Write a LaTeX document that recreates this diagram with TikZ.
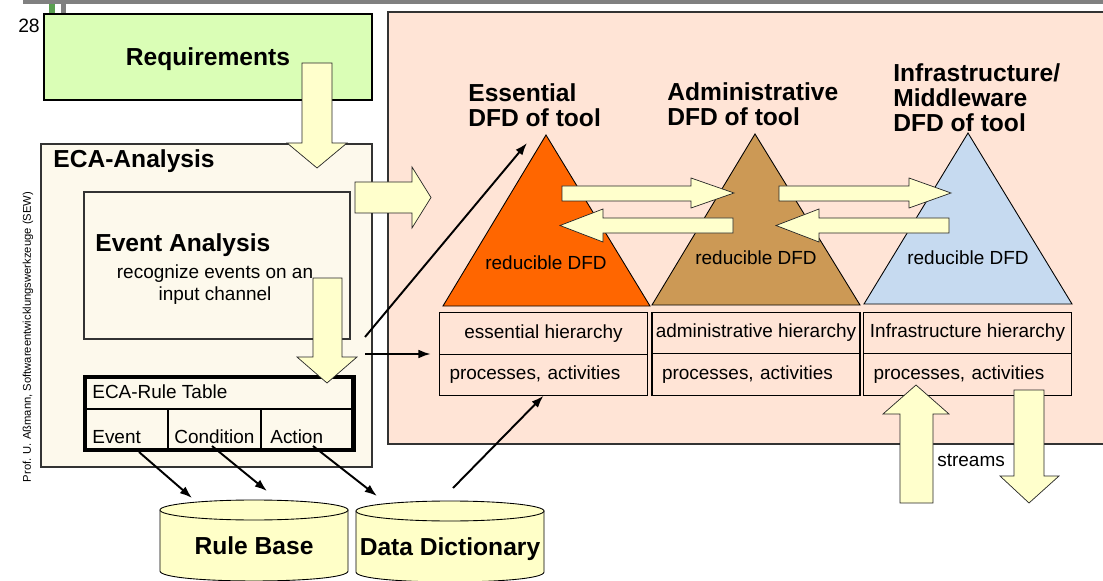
\documentclass[tikz,border=0pt]{standalone}
\usepackage{fontspec}
\setmainfont{Liberation Sans}
\usetikzlibrary{arrows.meta,positioning}

\definecolor{reqgreen}{RGB}{218,254,182}
\definecolor{ecacream}{RGB}{253,249,236}
\definecolor{toolpink}{RGB}{255,228,214}
\definecolor{fatyellow}{RGB}{255,255,204}
\definecolor{dbyellow}{RGB}{255,255,200}
\definecolor{essorange}{RGB}{255,102,0}
\definecolor{admbrown}{RGB}{204,153,85}
\definecolor{infblue}{RGB}{198,218,240}
\definecolor{stripegreen}{RGB}{90,160,80}

\tikzset{
  headtext/.style={font=\fontsize{14}{14.2}\selectfont\bfseries, inner sep=0pt},
  normtext/.style={font=\fontsize{10.8}{12.5}\selectfont, inner sep=0pt},
  tablecell/.style={draw, line width=0.6pt, normtext, minimum width=4.16cm, minimum height=0.83cm, outer sep=0pt},
  fatarrow/.style={draw=black!85, fill=fatyellow, line width=0.4pt},
  flow/.style={-{Latex[length=7pt,width=5pt]}, line width=1.1pt},
}

\begin{document}
\begin{tikzpicture}[x=0.02cm, y=-0.02cm]
\useasboundingbox (0,0) rectangle (1103,581);
% slide frame
\fill[gray] (23,0) rectangle (1103,4.5);
\fill[stripegreen] (49,4) rectangle (55,13);
\fill[gray] (61,4) rectangle (66,13);
\node[font=\fontsize{11}{12}\selectfont, inner sep=0pt, anchor=base] (pagenum) at (29,33) {28};
\node[rotate=90, font=\fontsize{6.4}{7}\selectfont, inner sep=0pt] (author) at (28,337) {Prof. U. Aßmann, Softwareentwicklungswerkzeuge (SEW)};

% tool area
\draw[draw=black!80, fill=toolpink, line width=0.6pt] (388,12) rectangle (1110,444);

% requirements and ECA analysis
\draw[fill=reqgreen, line width=0.6pt] (44,14) rectangle (372,100);
\node[headtext, anchor=base] (req) at (208,66) {Requirements};
\draw[draw=black!80, fill=ecacream, line width=0.6pt] (41,144) rectangle (372,467);
\node[headtext, anchor=base west] (eca) at (53,168) {ECA-Analysis};
\draw[draw=black!80, fill=ecacream, line width=0.6pt] (84,192) rectangle (350,339);
\node[headtext, anchor=base west] (evanalysis) at (95,252) {Event Analysis};
\node[normtext, align=center] (evdesc) at (215,285) {recognize events on an\\input channel};

% ECA rule table
\draw[fill=ecacream, line width=2.6pt] (85,377) rectangle (353.5,450);
\draw[line width=0.6pt] (85,409) -- (353.5,409);
\draw[line width=0.6pt] (168,409) -- (168,450);
\draw[line width=0.6pt] (261,409) -- (261,450);
\node[normtext, anchor=base west] (ruletitle) at (92,398) {ECA-Rule Table};
\node[normtext, anchor=base west] (evcell) at (92,443) {Event};
\node[normtext, anchor=base west] (condcell) at (174,443) {Condition};
\node[normtext, anchor=base west] (actcell) at (270,443) {Action};

% the three DFDs
\draw[fill=essorange, line width=0.5pt] (546,135) -- (650,306) -- (443,306) -- cycle;
\draw[fill=admbrown, line width=0.5pt] (755,134) -- (860,305) -- (652,305) -- cycle;
\draw[fill=infblue, line width=0.5pt] (968,133) -- (1072,304) -- (864,304) -- cycle;
\node[normtext, anchor=base] (essred) at (546,269) {reducible DFD};
\node[normtext, anchor=base] (admred) at (756,264) {reducible DFD};
\node[normtext, anchor=base] (infred) at (968,264) {reducible DFD};
\node[headtext, align=left, anchor=north west] (esstitle) at (468,83) {Essential\\DFD of tool};
\node[headtext, align=left, anchor=north west] (admtitle) at (667,82) {Administrative\\DFD of tool};
\node[headtext, align=left, anchor=north west] (inftitle) at (893,63) {Infrastructure/\\Middleware\\DFD of tool};

% hierarchies
\node[tablecell] (esshier) at (543.5,333.5) {essential hierarchy};
\node[tablecell, text width=3.76cm, align=left, below=0pt of esshier] (essproc) {processes, activities};
\node[tablecell] (admhier) at (756,333) {administrative hierarchy};
\node[tablecell, text width=3.76cm, align=left, below=0pt of admhier] (admproc) {processes, activities};
\node[tablecell] (infhier) at (967.5,333) {Infrastructure hierarchy};
\node[tablecell, text width=3.76cm, align=left, below=0pt of infhier] (infproc) {processes, activities};

% fat arrows
\draw[fatarrow] (302,63) -- (332,63) -- (332,143) -- (347,143) -- (317,168) -- (287,143) -- (302,143) -- cycle;
\draw[fatarrow] (355,182) -- (412,182) -- (412,167) -- (431,197.5) -- (412,228) -- (412,213) -- (355,213) -- cycle;
\draw[fatarrow] (313,278) -- (342,278) -- (342,357) -- (357,357) -- (327,383) -- (297,357) -- (313,357) -- cycle;
\draw[fatarrow] (562,186) -- (691,186) -- (691,178) -- (734,193) -- (691,208) -- (691,201) -- (562,201) -- cycle;
\draw[fatarrow] (733,218) -- (603,218) -- (603,209) -- (560,225.5) -- (603,242) -- (603,233) -- (733,233) -- cycle;
\draw[fatarrow] (779,186) -- (909,186) -- (909,178) -- (951,193) -- (909,208) -- (909,201) -- (779,201) -- cycle;
\draw[fatarrow] (949,218) -- (819,218) -- (819,209) -- (776,225.5) -- (819,242) -- (819,233) -- (949,233) -- cycle;
\draw[fatarrow] (900,503) -- (900,414) -- (883,414) -- (916,385) -- (949,414) -- (933,414) -- (933,503) -- cycle;
\draw[fatarrow] (1014,390) -- (1044,390) -- (1044,476) -- (1059,476) -- (1029,503) -- (1000,476) -- (1014,476) -- cycle;
\node[normtext, anchor=base west] (streams) at (937,466) {streams};

% stores
\draw[fill=dbyellow, line width=0.5pt] (160,510) -- (160,571) .. controls (160,584.3) and (348,584.3) .. (348,571) -- (348,510) -- cycle;
\draw[fill=dbyellow, line width=0.5pt] (254,510) ellipse [x radius=94, y radius=10];
\draw[fill=dbyellow, line width=0.5pt] (356,511) -- (356,572) .. controls (356,585.3) and (544,585.3) .. (544,572) -- (544,511) -- cycle;
\draw[fill=dbyellow, line width=0.5pt] (450,511) ellipse [x radius=94, y radius=10];
\node[headtext, anchor=base] (rulebase) at (254,554) {Rule Base};
\node[headtext, anchor=base] (datadict) at (450,555) {Data Dictionary};

% connectors
\coordinate (ecaout1) at (365,337);
\coordinate (esstip) at (527,143);
\coordinate (ecaout2) at (365,354);
\coordinate (evout) at (139,452);
\coordinate (rbin1) at (192,498);
\coordinate (condout) at (212,446);
\coordinate (rbin2) at (267,491);
\coordinate (actout) at (313,446);
\coordinate (ddin) at (377,496);
\coordinate (ddout) at (453,488);
\draw[flow] (ecaout1) -- (esstip);
\draw[flow, shorten >=5pt] (ecaout2) -- (ecaout2 -| esshier.west);
\draw[flow] (evout) -- (rbin1);
\draw[flow] (condout) -- (rbin2);
\draw[flow] (actout) -- (ddin);
\draw[flow] (ddout) -- (essproc.south);
\end{tikzpicture}
\end{document}
